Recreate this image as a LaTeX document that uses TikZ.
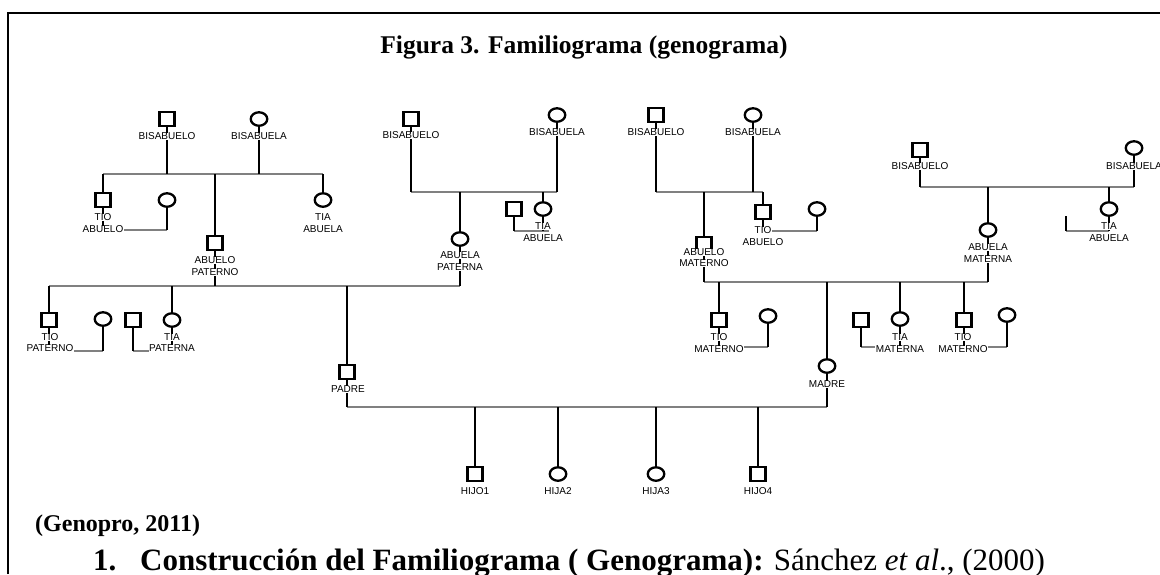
\documentclass[tikz,border=0pt]{standalone}
\usepackage{fontspec}
\setmainfont{Liberation Serif}
\newfontfamily\lblfont{Liberation Sans}
\usetikzlibrary{shapes.geometric}
\definecolor{barg}{RGB}{128,128,128}
\newcommand\lbl[4]{\node[lbl] (#1) at (#2,#3) {#4};}
\begin{document}
\begin{tikzpicture}[x=1pt,y=-1pt,
  male/.style={draw,rectangle,line width=2.3pt,minimum width=15pt,minimum height=14pt,inner sep=0pt,fill=white},
  female/.style={draw,ellipse,line width=2.3pt,minimum width=16.5pt,minimum height=13.5pt,inner sep=0pt,fill=white},
  lbl/.style={font=\lblfont\fontsize{10}{12}\selectfont,fill=white,inner xsep=0.5pt,inner ysep=0pt,text height=7pt,text depth=0pt},
  kid/.style={line width=2.6pt,black},
  bar/.style={line width=2.2pt,color=barg},
]
\useasboundingbox (0,0) rectangle (1160,574);
\draw[line width=2.4pt] (8,574) -- (8,13) -- (1160,13);

% ---- symbols ----
\node[male]   (gg1m)   at (167,119) {};
\node[female] (gg1f)   at (259,119) {};
\node[male]   (tioab1) at (103,200) {};
\node[female] (tioab1w) at (167,200) {};
\node[male]   (abp)    at (215,243) {};
\node[female] (tiaab1) at (323,200) {};

\node[male]   (gg2m)   at (411,119) {};
\node[female] (gg2f)   at (557,115) {};
\node[female] (abp2)   at (460,239) {};
\node[male]   (tiaab2h) at (514,209) {};
\node[female] (tiaab2) at (543,209) {};

\node[male]   (gg3m)   at (656,115) {};
\node[female] (gg3f)   at (753,115) {};
\node[male]   (abm)    at (704,244) {};
\node[male]   (tioab3) at (763,212) {};
\node[female] (tioab3w) at (817,209) {};

\node[male]   (gg4m)   at (920,150) {};
\node[female] (gg4f)   at (1134,148) {};
\node[female] (abm2)   at (988,230) {};
\node[female] (tiaab4) at (1109,209) {};
\coordinate (h4) at (1066,216);

\node[male]   (tiop)   at (49,320) {};
\node[female] (tiopw)  at (103,319) {};
\node[male]   (tiaph)  at (133,320) {};
\node[female] (tiap)   at (172,320) {};
\node[male]   (padre)  at (347,372) {};

\node[male]   (tiom1)  at (719,320) {};
\node[female] (tiom1w) at (768,316) {};
\node[male]   (tiamh)  at (861,320) {};
\node[female] (tiam)   at (900,319) {};
\node[male]   (tiom2)  at (964,320) {};
\node[female] (tiom2w) at (1007,315) {};
\node[female] (madre)  at (827,366) {};

\node[male]   (hijo1)  at (475,474) {};
\node[female] (hija2)  at (558,474) {};
\node[female] (hija3)  at (656,474) {};
\node[male]   (hijo4)  at (758,474) {};

% ---- levels ----
\coordinate (b1) at (0,174);
\coordinate (b2) at (0,192);
\coordinate (b3) at (0,192);
\coordinate (b4) at (0,187);
\coordinate (bp) at (0,286);
\coordinate (bm) at (0,282);
\coordinate (bc) at (0,407);
\coordinate (m1) at (0,230);
\coordinate (m2) at (0,231);
\coordinate (m3) at (0,231);
\coordinate (m4) at (0,231);
\coordinate (mp) at (0,351);
\coordinate (mm) at (0,347);

% ---- sibship bars ----
\draw[bar] (tioab1 |- b1) -- (tiaab1 |- b1);
\draw[bar] (gg2m |- b2) -- (gg2f |- b2);
\draw[bar] (gg3m |- b3) -- (tioab3 |- b3);
\draw[bar] (gg4m |- b4) -- (gg4f |- b4);
\draw[bar] (tiop |- bp) -- (abp2 |- bp);
\draw[bar] (abm |- bm) -- (abm2 |- bm);
\draw[bar] (padre |- bc) -- (madre |- bc);

% ---- marriage bars ----
\draw[bar] (tioab1 |- m1) -- (tioab1w |- m1);
\draw[bar] (tiaab2h |- m2) -- ([xshift=6pt]tiaab2 |- m2);
\draw[bar] (tioab3 |- m3) -- (tioab3w |- m3);
\draw[bar] (h4 |- m4) -- (tiaab4 |- m4);
\draw[bar] (tiop |- mp) -- (tiopw |- mp);
\draw[bar] (tiaph |- mp) -- (tiap |- mp);
\draw[bar] (tiom1 |- mm) -- (tiom1w |- mm);
\draw[bar] (tiamh |- mm) -- (tiam |- mm);
\draw[bar] (tiom2 |- mm) -- (tiom2w |- mm);

% ---- vertical links ----
\foreach \n in {gg1m,gg1f,tioab1,abp,tiaab1} \draw[kid] (\n) -- (\n |- b1);
\foreach \n in {gg2m,gg2f,abp2,tiaab2} \draw[kid] (\n) -- (\n |- b2);
\foreach \n in {gg3m,gg3f,abm,tioab3} \draw[kid] (\n) -- (\n |- b3);
\foreach \n in {gg4m,gg4f,abm2,tiaab4} \draw[kid] (\n) -- (\n |- b4);
\foreach \n in {abp,abp2,tiop,tiap,padre} \draw[kid] (\n) -- (\n |- bp);
\foreach \n in {abm,abm2,tiom1,madre,tiam,tiom2} \draw[kid] (\n) -- (\n |- bm);
\foreach \n in {padre,madre,hijo1,hija2,hija3,hijo4} \draw[kid] (\n) -- (\n |- bc);
\draw[kid] (tioab1) -- (tioab1 |- m1);
\draw[kid] (tioab1w) -- (tioab1w |- m1);
\draw[kid] (tiaab2h) -- (tiaab2h |- m2);
\draw[kid] (tiaab2) -- (tiaab2 |- m2);
\draw[kid] (tioab3) -- (tioab3 |- m3);
\draw[kid] (tioab3w) -- (tioab3w |- m3);
\draw[kid] (h4) -- (h4 |- m4);
\draw[kid] (tiaab4) -- (tiaab4 |- m4);
\foreach \n in {tiop,tiopw,tiaph,tiap} \draw[kid] (\n) -- (\n |- mp);
\foreach \n in {tiom1,tiom1w,tiamh,tiam,tiom2,tiom2w} \draw[kid] (\n) -- (\n |- mm);

% ---- labels ----
\lbl{l1}{167}{136}{BISABUELO}
\lbl{l2}{259}{136}{BISABUELA}
\lbl{l3a}{103}{217}{TIO}
\lbl{l3b}{103}{229}{ABUELO}
\lbl{l4a}{215}{260}{ABUELO}
\lbl{l4b}{215}{272}{PATERNO}
\lbl{l5a}{323}{217}{TIA}
\lbl{l5b}{323}{229}{ABUELA}
\lbl{l6}{411}{135}{BISABUELO}
\lbl{l7}{557}{132}{BISABUELA}
\lbl{l8a}{460}{255}{ABUELA}
\lbl{l8b}{460}{267}{PATERNA}
\lbl{l9a}{543}{226}{TIA}
\lbl{l9b}{543}{238}{ABUELA}
\lbl{l10}{656}{132}{BISABUELO}
\lbl{l11}{753}{132}{BISABUELA}
\lbl{l12a}{704}{252}{ABUELO}
\lbl{l12b}{704}{263}{MATERNO}
\lbl{l13a}{763}{230}{TIO}
\lbl{l13b}{763}{242}{ABUELO}
\lbl{l14}{920}{166}{BISABUELO}
\lbl{l15}{1134}{166}{BISABUELA}
\lbl{l16a}{988}{247}{ABUELA}
\lbl{l16b}{988}{259}{MATERNA}
\lbl{l17a}{1109}{226}{TIA}
\lbl{l17b}{1109}{238}{ABUELA}
\lbl{l18a}{50}{337}{TIO}
\lbl{l18b}{50}{348}{PATERNO}
\lbl{l19a}{172}{337}{TIA}
\lbl{l19b}{172}{348}{PATERNA}
\lbl{l20}{348}{389}{PADRE}
\lbl{l21a}{719}{337}{TIO}
\lbl{l21b}{719}{349}{MATERNO}
\lbl{l22a}{900}{337}{TIA}
\lbl{l22b}{900}{349}{MATERNA}
\lbl{l23a}{963}{337}{TIO}
\lbl{l23b}{963}{349}{MATERNO}
\lbl{l24}{827}{384}{MADRE}
\lbl{l25}{475}{491}{HIJO1}
\lbl{l26}{558}{491}{HIJA2}
\lbl{l27}{656}{491}{HIJA3}
\lbl{l28}{758}{491}{HIJO4}

% ---- texts ----
\node[anchor=base,inner sep=0pt,font=\bfseries\fontsize{25.5}{30}\selectfont] (title) at (584,53) {Figura 3. Familiograma (genograma)};
\node[anchor=base west,inner sep=0pt,font=\bfseries\fontsize{24}{28}\selectfont] (src) at (35,531) {(Genopro, 2011)};
\node[anchor=base west,inner sep=0pt,font=\bfseries\fontsize{31}{36}\selectfont] (num) at (93,570) {1.};
\node[anchor=base west,inner sep=0pt,font=\fontsize{31}{36}\selectfont] (sec) at (140,570) {\textbf{Construcción del Familiograma ( Genograma):} Sánchez \textit{et al}., (2000)};
\end{tikzpicture}
\end{document}
